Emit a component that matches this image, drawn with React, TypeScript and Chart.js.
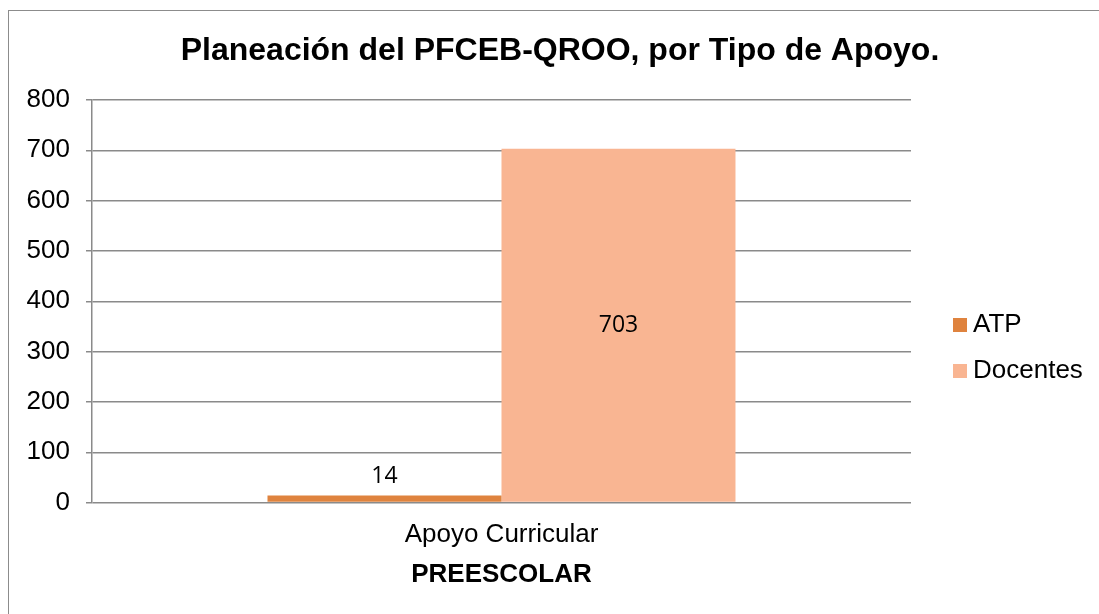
import React, { useEffect, useRef } from 'react';
import { Chart, registerables } from 'chart.js';

Chart.register(...registerables);

// ---- Data ----
const titleText = 'Planeación del PFCEB-QROO, por Tipo de Apoyo.';
const categories = ['Apoyo Curricular'];
const groupLabel = 'PREESCOLAR';
const seriesNames = ['ATP', 'Docentes'];
const atpValues = [14];
const docentesValues = [703];
const yMin = 0;
const yMax = 800;
const yStep = 100;

// ---- Styles ----
const FONT = "'Liberation Sans', Arial, sans-serif";
const LABEL_FONT = "'Open Sans', 'Noto Sans', sans-serif";
const GRID = '#8a8a8a';
const COLORS = ['#DF833E', '#F9B592'];
const LABEL_POS = ['outside', 'center'];

const titlePlugin = {
  id: 'customTitle',
  afterDraw(chart: any) {
    const ctx = chart.ctx;
    ctx.save();
    ctx.font = `bold 32px ${FONT}`;
    ctx.fillStyle = '#000';
    ctx.textAlign = 'center';
    ctx.textBaseline = 'alphabetic';
    ctx.fillText(titleText, chart.width / 2, 50);
    ctx.restore();
  },
};

const groupLabelPlugin = {
  id: 'groupLabel',
  afterDraw(chart: any) {
    const ctx = chart.ctx;
    const area = chart.chartArea;
    ctx.save();
    ctx.font = `bold 26px ${FONT}`;
    ctx.fillStyle = '#000';
    ctx.textAlign = 'center';
    ctx.textBaseline = 'alphabetic';
    ctx.fillText(groupLabel, (area.left + area.right) / 2, 572);
    ctx.restore();
  },
};

const dataLabelPlugin = {
  id: 'dataLabelPlugin',
  afterDatasetsDraw(chart: any) {
    const ctx = chart.ctx;
    chart.data.datasets.forEach((ds: any, di: number) => {
      const meta = chart.getDatasetMeta(di);
      meta.data.forEach((bar: any, i: number) => {
        const { x, y, base } = bar.getProps(['x', 'y', 'base'], true);
        const ty = LABEL_POS[di] === 'center' ? (y + base) / 2 : y - 19;
        ctx.save();
        ctx.font = `23px ${LABEL_FONT}`;
        ctx.fillStyle = '#000';
        ctx.textAlign = 'center';
        ctx.textBaseline = 'middle';
        ctx.fillText(String(ds.data[i]), x, ty);
        ctx.restore();
      });
    });
  },
};

const legendPlugin = {
  id: 'customLegend',
  afterDraw(chart: any) {
    const ctx = chart.ctx;
    const x0 = 945;
    const y0 = 315;
    const gap = 46;
    chart.data.datasets.forEach((ds: any, i: number) => {
      const cy = y0 + i * gap;
      ctx.save();
      ctx.fillStyle = ds.backgroundColor;
      ctx.fillRect(x0, cy - 7, 14, 14);
      ctx.fillStyle = '#000';
      ctx.font = `26px ${FONT}`;
      ctx.textAlign = 'left';
      ctx.textBaseline = 'middle';
      ctx.fillText(ds.label, x0 + 20, cy);
      ctx.restore();
    });
  },
};

export default function App() {
  const ref = useRef<HTMLCanvasElement>(null);

  useEffect(() => {
    Chart.defaults.font.family = FONT;
    const chart = new Chart(ref.current as HTMLCanvasElement, {
      type: 'bar',
      data: {
        labels: categories,
        datasets: [
          { label: seriesNames[0], data: atpValues, backgroundColor: COLORS[0], categoryPercentage: 0.5714, barPercentage: 1 },
          { label: seriesNames[1], data: docentesValues, backgroundColor: COLORS[1], categoryPercentage: 0.5714, barPercentage: 1 },
        ],
      },
      options: {
        responsive: false,
        animation: false,
        devicePixelRatio: 1,
        layout: { padding: { left: 2.6, right: 201, top: 90, bottom: 63.4 } },
        plugins: {
          legend: { display: false },
          tooltip: { enabled: false },
          title: { display: false },
        },
        scales: {
          x: {
            grid: { display: false, drawTicks: false },
            border: { display: false },
            ticks: { color: '#000', font: { size: 26, family: FONT }, padding: 16.4 },
          },
          y: {
            min: yMin,
            max: yMax,
            ticks: { stepSize: yStep, color: '#000', font: { size: 26, family: FONT }, padding: 16 },
            grid: { color: GRID, lineWidth: 1.5, tickLength: 6, tickColor: GRID },
            border: { display: true, color: GRID, width: 1.5 },
          },
        },
      },
      plugins: [dataLabelPlugin, legendPlugin, titlePlugin, groupLabelPlugin],
    } as any);
    return () => chart.destroy();
  }, []);

  return (
    <>
      <div
        style={{
          position: 'fixed',
          left: 8,
          top: 10,
          width: 1110,
          height: 630,
          border: '1px solid #8c8c8c',
          boxSizing: 'border-box',
          background: '#fff',
        }}
      />
      <canvas
        ref={ref}
        width={1104}
        height={620}
        style={{ position: 'fixed', left: 8, top: 10, width: 1104, height: 620 }}
      />
    </>
  );
}
